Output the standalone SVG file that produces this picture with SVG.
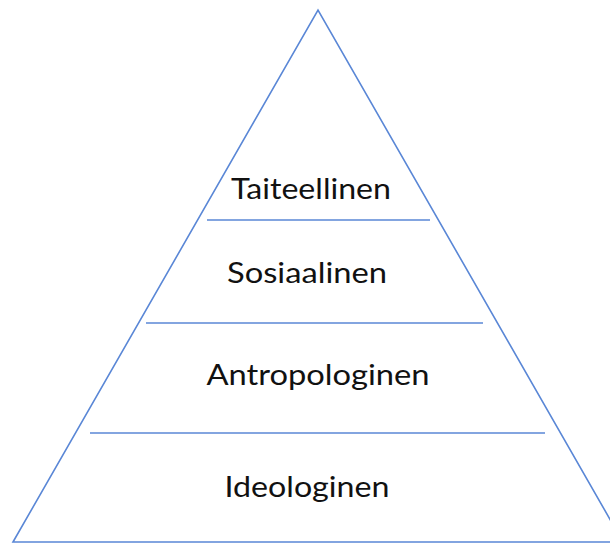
<svg xmlns="http://www.w3.org/2000/svg" width="610" height="544" viewBox="0 0 610 544">
<style>
.edge{stroke:#5a87d6;stroke-width:1.6;fill:none}
.lbl{font-family:Lato,"Open Sans","Liberation Sans",sans-serif;font-size:28px;fill:#111;text-anchor:middle}
</style>
<rect width="610" height="544" fill="#fff"/>
<g id="pyramid">
<path class="edge" d="M13,542 L318,10 L623,542 Z"/>
</g>
<g id="connectors">
<line class="edge" x1="207" y1="220" x2="430" y2="220"/>
<line class="edge" x1="146" y1="323" x2="483" y2="323"/>
<line class="edge" x1="90" y1="433" x2="545" y2="433"/>
</g>
<g id="taiteellinen"><text class="lbl" x="311" y="199" textLength="160" lengthAdjust="spacingAndGlyphs">Taiteellinen</text></g>
<g id="sosiaalinen"><text class="lbl" x="307" y="283" textLength="160" lengthAdjust="spacingAndGlyphs">Sosiaalinen</text></g>
<g id="antropologinen"><text class="lbl" x="318" y="385" textLength="223" lengthAdjust="spacingAndGlyphs">Antropologinen</text></g>
<g id="ideologinen"><text class="lbl" x="307" y="497" textLength="165" lengthAdjust="spacingAndGlyphs">Ideologinen</text></g>
</svg>
